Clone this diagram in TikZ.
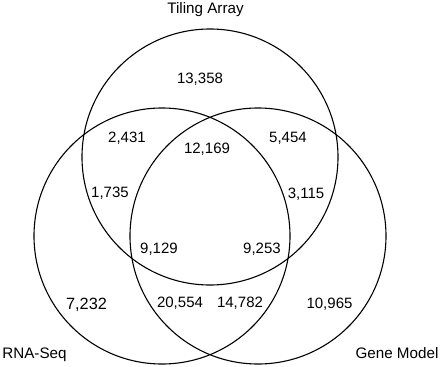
\documentclass[tikz,border=0pt]{standalone}
\usepackage{fontspec}
\setmainfont{Liberation Sans}

\begin{document}
\begin{tikzpicture}[x=1pt, y=-1pt,
    set/.style={draw=black, circle, line width=1.1pt, minimum size=256pt, inner sep=0pt},
    count/.style={anchor=base, inner sep=0pt, font=\fontsize{15}{18}\selectfont},
    setname/.style={anchor=base, inner sep=0pt, font=\fontsize{15.2}{18}\selectfont}]

  \useasboundingbox (0,0) rectangle (440,367);

  % the three sets
  \node[set] (tiling) at (210,157) {};
  \node[set] (rnaseq) at (162,236) {};
  \node[set] (genemodel) at (258,236) {};

  % set names
  \node[setname] (tilingname) at (205.5,13.3) {Tiling Array};
  \node[setname] (rnaseqname) at (34.5,358) {RNA-Seq};
  \node[setname] (genemodelname) at (397,358) {Gene Model};

  % counts
  \node[count] (tonly) at (200,83) {13,358};
  \node[count] (tr1) at (127,142) {2,431};
  \node[count] (tr2) at (110,197.5) {1,735};
  \node[count] (tg1) at (288,142) {5,454};
  \node[count] (tg2) at (306,198) {3,115};
  \node[count] (all1) at (207,153) {12,169};
  \node[count] (all2) at (159,253) {9,129};
  \node[count] (all3) at (262,253) {9,253};
  \node[count, font=\fontsize{16.3}{19}\selectfont] (ronly) at (86.5,309) {7,232};
  \node[count] (rg1) at (180,307.3) {20,554};
  \node[count] (rg2) at (240,307.3) {14,782};
  \node[count] (gonly) at (329.5,308.3) {10,965};
\end{tikzpicture}
\end{document}
